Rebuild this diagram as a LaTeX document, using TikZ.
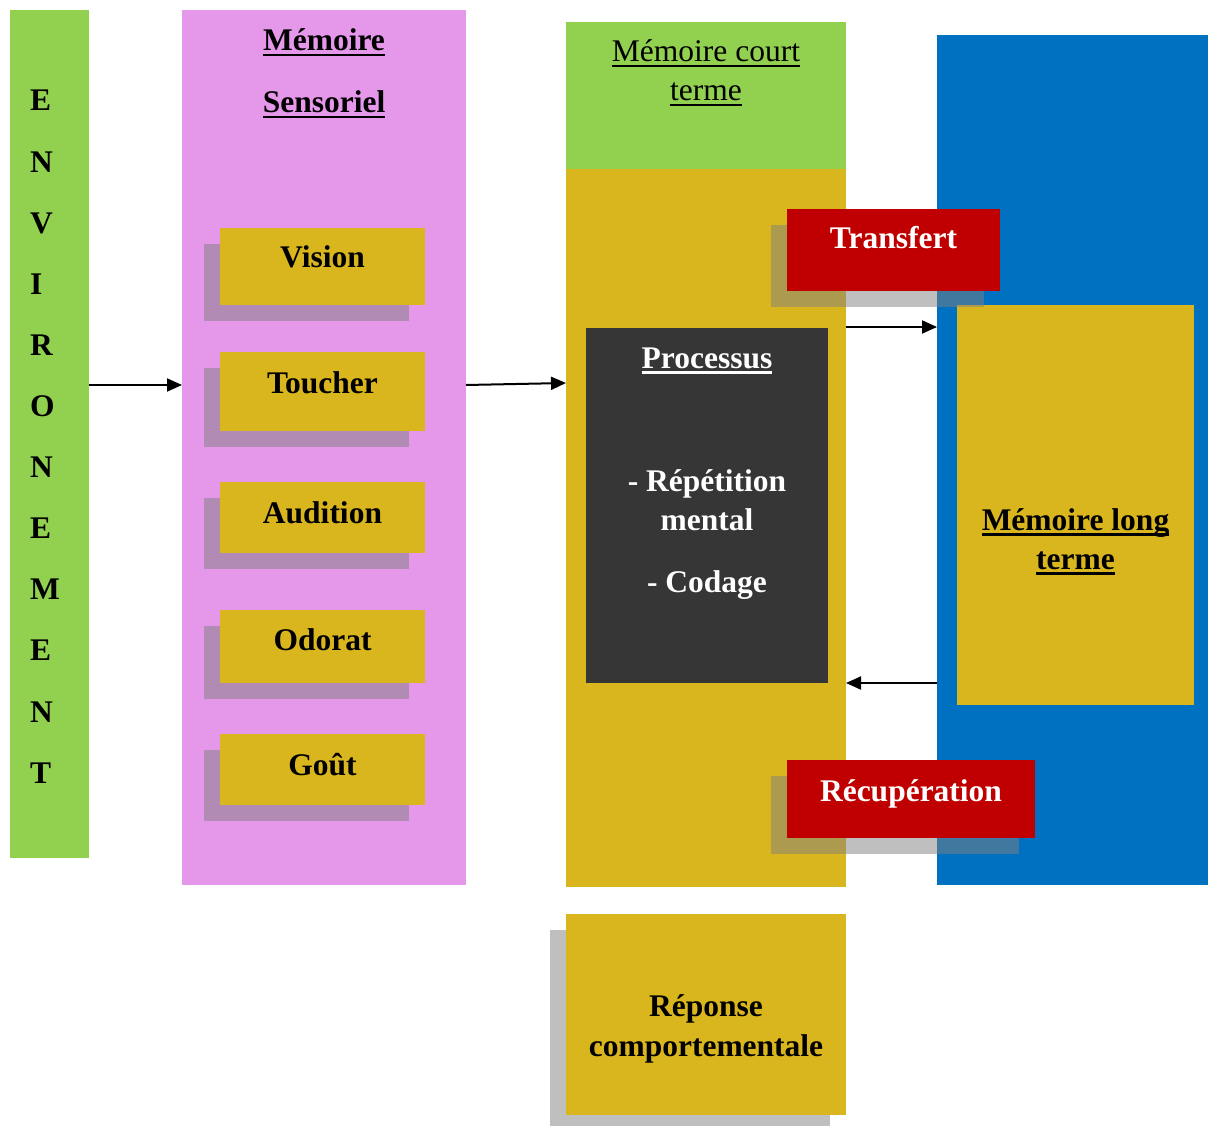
\documentclass[tikz,border=0pt]{standalone}
\usepackage{fontspec}
\setmainfont{Liberation Serif}
\newsavebox{\myulbox}
\newcommand{\myul}[1]{\sbox{\myulbox}{#1}\rlap{\rule[-5.5pt]{\wd\myulbox}{2.4pt}}\usebox{\myulbox}}
\usetikzlibrary{arrows.meta}
\definecolor{cgreen}{RGB}{146,208,80}
\definecolor{cpink}{RGB}{229,151,233}
\definecolor{cyel}{RGB}{218,182,30}
\definecolor{cblue}{RGB}{0,112,192}
\definecolor{cred}{RGB}{192,0,0}
\definecolor{cdark}{RGB}{54,54,54}
\tikzset{
  panel/.style={draw=none,inner sep=0pt,outer sep=0pt},
  shadowbox/.style={panel,fill=gray,fill opacity=0.5},
  txt/.style={anchor=base,inner sep=0pt,font=\fontsize{31.5}{36}\selectfont\bfseries},
  txtr/.style={anchor=base,inner sep=0pt,font=\fontsize{31.5}{36}\selectfont},
  arr/.style={line width=2pt,-{Triangle[length=15pt,width=13pt]}}
}
\begin{document}
\begin{tikzpicture}[x=1pt,y=-1pt]
\clip (0,0) rectangle (1208,1126);
\fill[white] (0,0) rectangle (1208,1126);
% environment
\node[panel,fill=cgreen,minimum width=79pt,minimum height=848pt] (env) at (49.5,434) {};
\foreach \L [count=\i from 0] in {E,N,V,I,R,O,N,E,M,E,N,T}{
  \node[txt,anchor=base west] (envl\i) at (30,111+61.1*\i) {\L};
}
% sensory
\node[panel,fill=cpink,minimum width=284pt,minimum height=875pt] (sens) at (324,447.5) {};
\node[txt] (sens1) at (324,51) {\myul{Mémoire}};
\node[txt] (sens2) at (324,113) {\myul{Sensoriel}};
\foreach \n/\cy/\h/\b in {Vision/266.5/77/268, Toucher/391.5/79/393, Audition/517.5/71/523, Odorat/646.5/73/650, Goût/769.5/71/775}{
  \node[shadowbox,minimum width=205pt,minimum height=\h pt] (sh\n) at (306.5,\cy+16) {};
  \node[panel,fill=cyel,minimum width=205pt,minimum height=\h pt] (b\n) at (322.5,\cy) {};
  \node[txt] (t\n) at (322.5,\b) {\n};
}
% short term
\node[panel,fill=cgreen,minimum width=280pt,minimum height=147pt] (ctop) at (706,95.5) {};
\node[panel,fill=cyel,minimum width=280pt,minimum height=718pt] (cm) at (706,528) {};
\node[txtr] (ct1) at (706,62) {\myul{Mémoire court}};
\node[txtr] (ct2) at (706,101) {\myul{terme}};
% processus
\node[panel,fill=cdark,minimum width=242pt,minimum height=355pt] (proc) at (707,505.5) {};
\node[txt,text=white] (p1) at (707,368) {\color{white}\myul{Processus}};
\node[txt,text=white] (p2) at (707,491) {- Répétition};
\node[txt,text=white] (p3) at (707,530) {mental};
\node[txt,text=white] (p4) at (707,592) {- Codage};
% long term
\node[panel,fill=cblue,minimum width=271pt,minimum height=850pt] (lt) at (1072.5,460) {};
\node[panel,fill=cyel,minimum width=237pt,minimum height=400pt] (ltin) at (1075.5,505) {};
\node[txt] (lt1) at (1075.5,530) {\myul{Mémoire long}};
\node[txt] (lt2) at (1075.5,569) {\myul{terme}};
% transfert
\node[shadowbox,minimum width=213pt,minimum height=82pt] (shtr) at (877.5,266) {};
\node[panel,fill=cred,minimum width=213pt,minimum height=82pt] (tr) at (893.5,250) {};
\node[txt,text=white] (ttr) at (893.5,249) {Transfert};
% recuperation
\node[shadowbox,minimum width=248pt,minimum height=78pt] (shrc) at (895,815) {};
\node[panel,fill=cred,minimum width=248pt,minimum height=78pt] (rc) at (911,799) {};
\node[txt,text=white] (trc) at (911,801) {Récupération};
% reponse
\node[shadowbox,minimum width=280pt,minimum height=201pt] (shrep) at (690,1030.5) {};
\node[panel,fill=cyel,minimum width=280pt,minimum height=201pt] (rep) at (706,1014.5) {};
\node[txt] (rep1) at (706,1016) {Réponse};
\node[txt] (rep2) at (706,1056) {comportementale};
% arrows
\draw[arr] (env.east |- 0,385) -- (sens.west |- 0,385);
\draw[arr] (sens.east |- 0,385) -- (cm.west |- 0,383);
\draw[arr] (cm.east |- 0,327) -- (lt.west |- 0,327);
\draw[arr] (lt.west |- 0,683) -- (cm.east |- 0,683);
\end{tikzpicture}
\end{document}
